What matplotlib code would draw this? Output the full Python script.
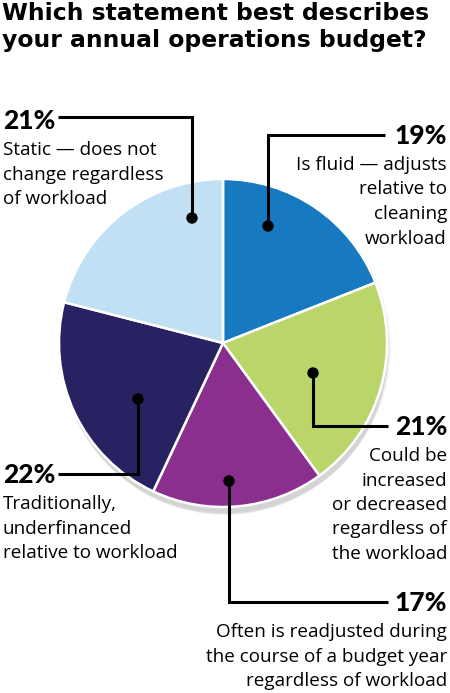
import matplotlib
matplotlib.use("Agg")
import matplotlib.pyplot as plt
from matplotlib.patches import Circle

# ---- data ----
title_lines = ["Which statement best describes", "your annual operations budget?"]
categories = [
    "Is fluid — adjusts relative to cleaning workload",
    "Could be increased or decreased regardless of the workload",
    "Often is readjusted during the course of a budget year regardless of workload",
    "Traditionally, underfinanced relative to workload",
    "Static — does not change regardless of workload",
]
values = [19, 21, 17, 22, 21]
pct_labels = ["19%", "21%", "17%", "22%", "21%"]
label_lines = [
    ["Is fluid — adjusts", "relative to", "cleaning", "workload"],
    ["Could be", "increased", "or decreased", "regardless of", "the workload"],
    ["Often is readjusted during", "the course of a budget year", "regardless of workload"],
    ["Traditionally,", "underfinanced", "relative to workload"],
    ["Static — does not", "change regardless", "of workload"],
]
colors = ["#1779bf", "#bad56a", "#8b2f8f", "#282262", "#c2e0f4"]

# ---- layout (pixel coordinates, y down) ----
W, H = 450, 693
fig = plt.figure(figsize=(W / 100, H / 100), dpi=100)
ax = fig.add_axes([0, 0, 1, 1])

cx, cy, R = 223, 343, 164

# subtle shadow under the pie
for i, a in enumerate([0.03, 0.03, 0.03, 0.04, 0.04]):
    ax.add_patch(Circle((cx + 2, cy + 4 + i * 1.5), R + 2 - i, color="black",
                        alpha=a, lw=0, zorder=1))

ax.pie(values, colors=colors, startangle=-90, counterclock=True,
       center=(cx, cy), radius=R, frame=True,
       wedgeprops=dict(edgecolor="white", linewidth=1.8, zorder=2))
ax.set_xlim(0, W)
ax.set_ylim(H, 0)
ax.set_aspect("equal")
ax.axis("off")

TITLE_FONT = dict(family=["DejaVu Sans"], weight="bold", fontsize=16.9)
PCT_FONT = dict(family=["Lato", "DejaVu Sans"], weight="black", fontsize=19)
BODY_FONT = dict(family=["Open Sans", "DejaVu Sans"], fontsize=13.6)

ax.text(2, 20, title_lines[0], ha="left", va="baseline", **TITLE_FONT)
ax.text(2, 47, title_lines[1], ha="left", va="baseline", **TITLE_FONT)

# leader lines: (dot, corner, end) and label anchor
leaders = [
    [(268, 226), (268, 135), (385, 135)],
    [(313, 373), (313, 426), (388, 426)],
    [(229, 481), (229, 602), (388, 602)],
    [(138, 399), (138, 474), (58, 474)],
    [(192, 218), (192, 117), (58, 117)],
]
anchors = [  # (x, pct baseline y, alignment)
    (447, 144, "right"),
    (447, 435, "right"),
    (447, 611, "right"),
    (3, 483, "left"),
    (3, 129, "left"),
]
line_h = 24.5

for i in range(len(values)):
    pts = leaders[i]
    ax.plot([p[0] for p in pts], [p[1] for p in pts], color="black",
            lw=2.2, solid_capstyle="butt", solid_joinstyle="miter", zorder=3)
    ax.add_patch(Circle(pts[0], 5, color="black", zorder=4))
    x, yb, ha = anchors[i]
    ax.text(x, yb, pct_labels[i], ha=ha, va="baseline", **PCT_FONT)
    for j, ln in enumerate(label_lines[i]):
        ax.text(x, yb + 26 + j * line_h, ln, ha=ha, va="baseline", **BODY_FONT)

fig.savefig("out.png", dpi=100)
